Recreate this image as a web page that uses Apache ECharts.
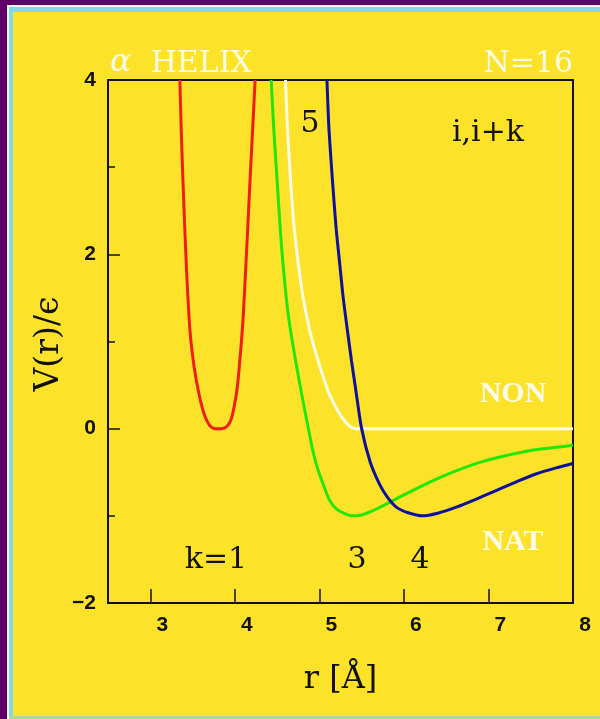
<!DOCTYPE html>
<html>
<head>
<meta charset="utf-8">
<script src="https://cdn.jsdelivr.net/npm/echarts@6/dist/echarts.min.js"></script>
<style>
  html, body { margin: 0; padding: 0; background: #fde22a; }
  #chart { width: 600px; height: 719px; }
</style>
</head>
<body>
<div id="chart"></div>
<script>
// Pair potentials V(r)/ϵ for i,i+k contacts in an α-helix (N=16)
const xTicks = [3, 4, 5, 6, 7];
const xTickLabels = [3, 4, 5, 6, 7, 8];
const yTickLabels = [-2, 0, 2, 4];

// k = 1 (red well)
const curveK1 = [[3.35,4.0],[3.37,3.3],[3.40,2.5],[3.43,1.8],[3.47,1.12],[3.52,0.7],[3.58,0.38],
  [3.64,0.16],[3.70,0.04],[3.76,0.0],[3.84,0.0],[3.90,0.02],[3.95,0.09],[3.99,0.24],[4.03,0.48],
  [4.07,0.9],[4.10,1.3],[4.14,2.05],[4.18,2.85],[4.21,3.42],[4.24,4.0]];
// k = 3 (green)
const curveK3 = [[4.43,4.0],[4.46,3.45],[4.49,3.0],[4.52,2.55],[4.55,2.12],[4.59,1.68],[4.63,1.32],
  [4.68,1.0],[4.73,0.72],[4.79,0.40],[4.86,0.05],[4.92,-0.24],[4.98,-0.46],[5.05,-0.65],[5.12,-0.82],
  [5.20,-0.92],[5.30,-0.975],[5.39,-1.0],[5.50,-0.99],[5.60,-0.955],[5.70,-0.91],
  [5.83,-0.845],[6.00,-0.76],[6.30,-0.616],[6.60,-0.49],[6.90,-0.386],[7.20,-0.31],[7.50,-0.25],
  [7.75,-0.22],[8.00,-0.19]];
// k = 4 (blue)
const curveK4 = [[5.09,4.0],[5.11,3.5],[5.14,3.05],[5.17,2.65],[5.20,2.28],[5.24,1.9],[5.28,1.52],
  [5.33,1.14],[5.38,0.78],[5.43,0.45],[5.50,0.0],[5.60,-0.38],[5.71,-0.634],[5.80,-0.78],[5.91,-0.9],
  [6.05,-0.965],[6.22,-1.0],[6.40,-0.97],[6.62,-0.9],[6.85,-0.81],[7.09,-0.71],[7.33,-0.61],
  [7.56,-0.52],[7.80,-0.45],[8.00,-0.40]];
// k = 5 (white, non-native)
const curveK5 = [[4.60,4.0],[4.62,3.5],[4.645,3.07],[4.67,2.7],[4.70,2.32],[4.75,1.9],[4.80,1.55],
  [4.88,1.15],[4.96,0.86],[5.05,0.58],[5.13,0.37],[5.24,0.17],[5.35,0.035],[5.43,0.0],[8.00,0.0]];

const serif = 'DejaVu Serif';
const ink = '#111111';
const white = '#fffbe6';

function curve(data, color) {
  return {
    type: 'line', data: data, showSymbol: false, smooth: 0.25,
    lineStyle: { color: color, width: 3 }, clip: true, silent: true
  };
}

function label(text, x, y, opts, extra) {
  return Object.assign({
    type: 'text', x: x, y: y, z: 100,
    style: Object.assign({
      text: text, fill: ink, font: '30px "' + serif + '"',
      align: 'center', verticalAlign: 'middle'
    }, opts || {})
  }, extra || {});
}

const chart = echarts.init(document.getElementById('chart'), null, { renderer: 'canvas' });
chart.setOption({
  backgroundColor: '#fde22a',
  animation: false,
  grid: { left: 108, top: 80, right: 27, bottom: 116, containLabel: false },
  xAxis: [{
    type: 'value', min: 2.5, max: 8, position: 'bottom',
    name: 'r [Å]', nameLocation: 'middle', nameGap: 61,
    nameTextStyle: { fontFamily: serif, fontSize: 32, color: ink },
    axisLine: { show: true, onZero: false, lineStyle: { color: ink, width: 2 } },
    axisTick: { show: true, inside: true, length: 14, customValues: xTicks, lineStyle: { color: ink, width: 1.5 } },
    axisLabel: { customValues: xTickLabels, margin: 12, padding: [0, 0, 0, 24],
      fontFamily: 'Liberation Sans', fontWeight: 'bold', fontSize: 21, color: ink },
    splitLine: { show: false }
  }, {
    type: 'value', min: 2.5, max: 8, position: 'top',
    axisLine: { show: true, onZero: false, lineStyle: { color: ink, width: 2 } },
    axisTick: { show: false }, axisLabel: { show: false }, splitLine: { show: false }
  }],
  yAxis: [{
    type: 'value', min: -2, max: 4, interval: 2, position: 'left',
    axisLine: { show: true, onZero: false, lineStyle: { color: ink, width: 2 } },
    axisTick: { show: true, inside: true, length: 12, lineStyle: { color: ink, width: 1.5 } },
    minorTick: { show: true, splitNumber: 2, length: 7, lineStyle: { color: ink, width: 1.5 } },
    axisLabel: { customValues: yTickLabels, margin: 12,
      fontFamily: 'Liberation Sans', fontWeight: 'bold', fontSize: 21, color: ink,
      formatter: v => (v < 0 ? '\u2212' + Math.abs(v) : String(v)) },
    splitLine: { show: false }
  }, {
    type: 'value', min: -2, max: 4, position: 'right',
    axisLine: { show: true, onZero: false, lineStyle: { color: ink, width: 2 } },
    axisTick: { show: false }, axisLabel: { show: false }, splitLine: { show: false }
  }],
  series: [
    curve(curveK1, '#f01e10'),
    curve(curveK5, '#fffbe6'),
    curve(curveK3, '#22e600'),
    curve(curveK4, '#0d109a')
  ],
  graphic: [
    // frame bands along the top and left edges
    { type: 'rect', shape: { x: 0, y: 0, width: 600, height: 5 }, style: { fill: '#5f0068' }, z: 0 },
    { type: 'rect', shape: { x: 0, y: 0, width: 7, height: 719 }, style: { fill: '#5f0068' }, z: 0 },
    { type: 'rect', shape: { x: 7, y: 5, width: 593, height: 2 }, style: { fill: '#f4f4f4' }, z: 0 },
    { type: 'rect', shape: { x: 7, y: 5, width: 2, height: 714 }, style: { fill: '#f4f4f4' }, z: 0 },
    { type: 'rect', shape: { x: 9, y: 7, width: 591, height: 5 }, style: { fill: '#82d8e4' }, z: 0 },
    { type: 'rect', shape: { x: 9, y: 7, width: 4, height: 712 }, style: { fill: '#82d8e4' }, z: 0 },
    { type: 'rect', shape: { x: 9, y: 716, width: 591, height: 3 }, style: { fill: '#a9df8c' }, z: 0 },

    // vertical axis title
    label('V(r)/ϵ', 49, 344, { font: '33px "' + serif + '"' }, { rotation: Math.PI / 2 }),

    label('{a|α}  HELIX', 110, 64, {
      align: 'left', fill: white,
      rich: { a: { fontFamily: serif, fontStyle: 'italic', fontSize: 32, fill: white, padding: [0, 0, 2, 0] } }
    }),
    label('N=16', 573, 64, { align: 'right', fill: white }),
    label('5', 310, 124),
    label('i,i+k', 488, 133),
    label('NON', 513, 394, { fill: white, font: 'bold 30px "Liberation Serif"' }),
    label('NAT', 513, 542, { fill: white, font: 'bold 30px "Liberation Serif"' }),
    label('k=1', 216, 560),
    label('3', 357, 560),
    label('4', 420, 560)
  ]
});
</script>
</body>
</html>
